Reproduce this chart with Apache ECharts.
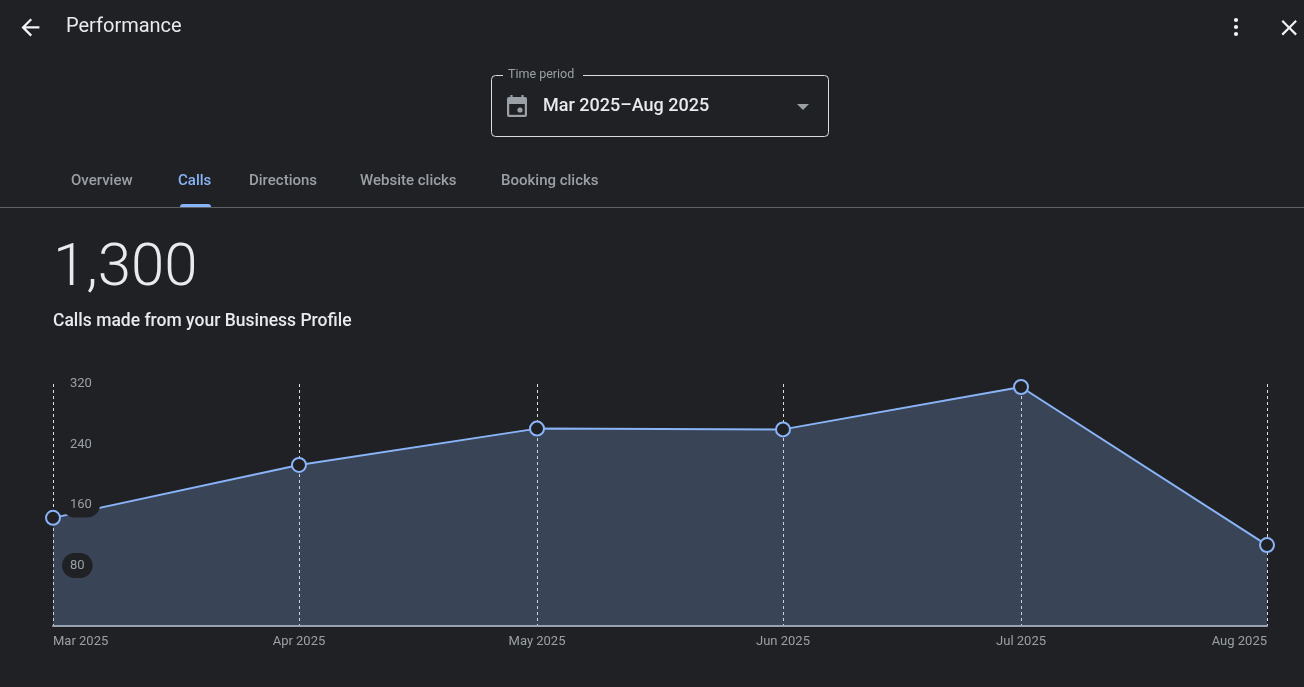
<!DOCTYPE html>
<html>
<head>
<meta charset="utf-8">
<title>Performance</title>
<style>
  html, body { margin: 0; padding: 0; background: #202124; }
  #chart { width: 1304px; height: 687px; }
</style>
<script src="https://cdn.jsdelivr.net/npm/echarts@6/dist/echarts.min.js"></script>
</head>
<body>
<div id="chart"></div>
<script>
// Monthly call counts for the business profile
const monthStarts = ['2025-03-01', '2025-04-01', '2025-05-01', '2025-06-01', '2025-07-01', '2025-08-01'];
const monthLabels = ['Mar 2025', 'Apr 2025', 'May 2025', 'Jun 2025', 'Jul 2025', 'Aug 2025'];
const callCounts = [143, 213, 261, 260, 316, 107];
const totalCalls = '1,300';
const tabNames = ['Overview', 'Calls', 'Directions', 'Website clicks', 'Booking clicks'];
const tabLeftEdges = [71, 178, 249, 360, 501];
const activeTab = 'Calls';

const BG = '#202124';
const BLUE = '#8ab4f8';
const GREY = '#9aa0a6';
const LIGHT = '#e8eaed';
const WHITE = '#f1f3f4';
const FONT = 'Roboto, sans-serif';

// The x axis runs on real dates so that long and short months get their true widths
const monthTimes = monthStarts.map(d => Date.parse(d + 'T00:00:00Z'));

const BACK_ARROW = [[20, 11], [7.83, 11], [13.42, 5.41], [12, 4], [4, 12], [12, 20], [13.41, 18.59], [7.83, 13], [20, 13]];
const CLOSE_CROSS = [[19, 6.41], [17.59, 5], [12, 10.59], [6.41, 5], [5, 6.41], [10.59, 12], [5, 17.59], [6.41, 19], [12, 13.41], [17.59, 19], [19, 17.59], [13.41, 12]];

function text(x, y, str, size, fill, weight) {
  return {
    type: 'text', x, y, silent: true,
    style: {
      text: str, fill, font: `${weight || 400} ${size}px ${FONT}`,
      textVerticalAlign: 'middle'
    }
  };
}
function glyph(points, x, y, scale, fill) {
  return { type: 'polygon', x, y, scaleX: scale, scaleY: scale, silent: true,
    shape: { points }, style: { fill } };
}
function box(x, y, width, height, fill, r) {
  return { type: 'rect', silent: true, shape: { x, y, width, height, r: r || 0 }, style: { fill } };
}
function dot(cx, cy, r, fill) {
  return { type: 'circle', silent: true, shape: { cx, cy, r }, style: { fill } };
}

// Page furniture around the plot: header, period picker, tabs, headline figure
const furniture = [
  glyph(BACK_ARROW, 17, 14, 1.12, WHITE),
  text(66, 26.5, 'Performance', 20, LIGHT, 400),
  dot(1236, 20, 2.1, WHITE),
  dot(1236, 27, 2.1, WHITE),
  dot(1236, 34, 2.1, WHITE),
  glyph(CLOSE_CROSS, 1276, 14.5, 1.1, WHITE),

  { type: 'rect', silent: true, shape: { x: 491.5, y: 75.5, width: 337, height: 61, r: 4 },
    style: { fill: 'none', stroke: '#dadce0', lineWidth: 1 } },
  box(503, 72, 80, 7, BG),
  text(508, 75, 'Time period', 12.5, GREY),

  // calendar icon
  box(507, 97, 20, 20, GREY, 2),
  box(510.4, 95, 2.2, 3, GREY),
  box(521.4, 95, 2.2, 3, GREY),
  box(509.2, 104, 15.6, 10.8, BG),
  dot(520, 110, 2.6, GREY),

  text(543, 106, 'Mar 2025\u2013Aug 2025', 18, LIGHT, 500),
  { type: 'polygon', silent: true, shape: { points: [[797, 104], [809, 104], [803, 110]] }, style: { fill: GREY } },

  box(0, 207, 1304, 1, '#5f6368'),
  box(180, 204, 31, 3, BLUE, [3, 3, 0, 0]),

  text(53, 270, totalCalls, 60, LIGHT, 300),
  text(53, 322, 'Calls made from your Business Profile', 17.5, LIGHT, 500)
];
tabNames.forEach((name, i) => {
  furniture.push(text(tabLeftEdges[i], 181, name, 15, name === activeTab ? BLUE : GREY, 500));
});

const chart = echarts.init(document.getElementById('chart'));
chart.setOption({
  backgroundColor: BG,
  animation: false,
  textStyle: { fontFamily: FONT },
  grid: { left: 53, right: 37, top: 384, bottom: 61 },
  xAxis: {
    type: 'value',
    min: monthTimes[0],
    max: monthTimes[monthTimes.length - 1],
    axisLine: { show: true, lineStyle: { color: GREY, width: 2 } },
    axisTick: { show: false, customValues: monthTimes },
    splitLine: { show: true, lineStyle: { color: '#dadce0', width: 1, type: [3, 3] } },
    axisLabel: {
      customValues: monthTimes,
      color: GREY, fontSize: 13, fontFamily: FONT, margin: 9,
      alignMinLabel: 'left', alignMaxLabel: 'right',
      hideOverlap: false,
      formatter: (value) => monthLabels[monthTimes.indexOf(value)]
    }
  },
  yAxis: {
    type: 'value',
    min: 0, max: 320, interval: 80,
    z: 5,
    axisLine: { show: false },
    axisTick: { show: false },
    splitLine: { show: false },
    axisLabel: {
      inside: true, margin: 9, showMinLabel: false,
      color: GREY, fontSize: 13, fontFamily: FONT,
      backgroundColor: BG, borderRadius: 13, padding: [6, 8, 6, 8]
    }
  },
  series: [{
    type: 'line',
    data: monthTimes.map((t, i) => [t, callCounts[i]]),
    z: 2,
    clip: false,
    symbol: 'circle',
    symbolSize: 14,
    showAllSymbol: true,
    lineStyle: { color: BLUE, width: 2 },
    itemStyle: { color: BG, borderColor: BLUE, borderWidth: 2 },
    areaStyle: { color: BLUE, opacity: 0.24 }
  }],
  graphic: { elements: furniture }
});
</script>
</body>
</html>
